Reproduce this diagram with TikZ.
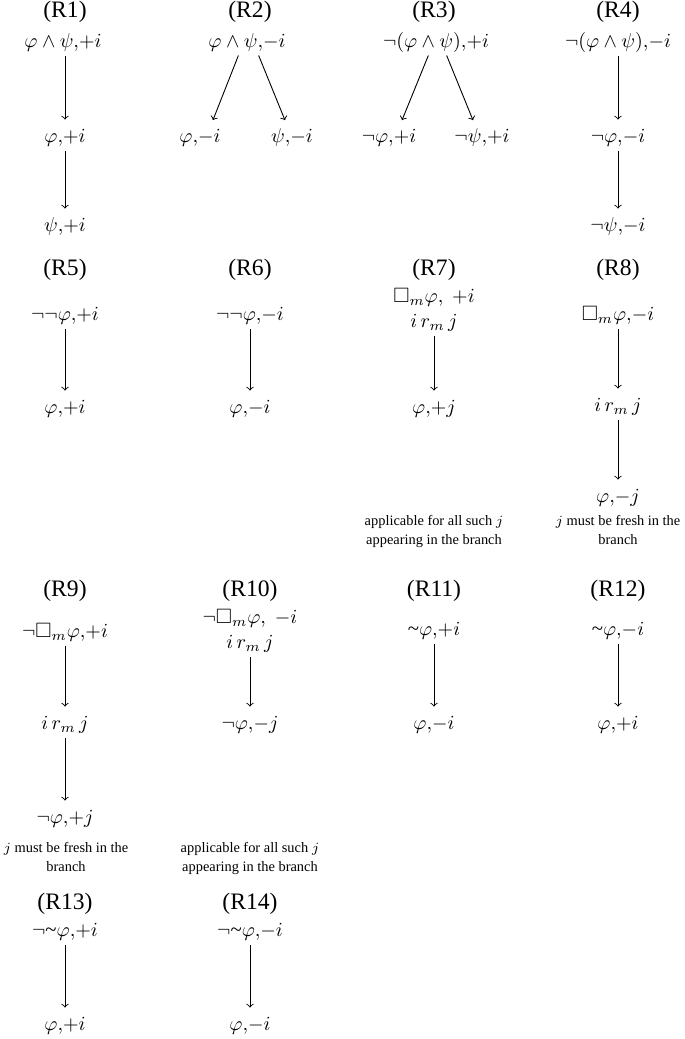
\documentclass[tikz,border=0pt]{standalone}
\usepackage{amssymb}
\usepackage{fontspec}
\setmainfont{Liberation Serif}
\newcommand{\cp}{{,}{+}}
\newcommand{\cm}{{,}{-}}
\begin{document}
\begin{tikzpicture}[x=0.5pt,y=-0.5pt,
  lab/.style={font=\fontsize{11.8}{14}\selectfont, anchor=base, inner sep=0pt},
  fm/.style={font=\fontsize{10.4}{12.5}\selectfont, anchor=base, inner sep=0pt, text height=7pt, text depth=2pt},
  note/.style={font=\fontsize{7.2}{9.5}\selectfont, anchor=base, inner sep=0pt},
  arr/.style={->, line width=0.45pt, shorten <=2.2pt, shorten >=4pt}]
\useasboundingbox (0,0) rectangle (685,1039);
% Row 1
\node[lab] (L1) at (65,17) {(R1)};
\node[lab] (L2) at (250,17) {(R2)};
\node[lab] (L3) at (434,17) {(R3)};
\node[lab] (L4) at (618,17) {(R4)};
\node[fm] (a1) at (63,47) {$\varphi\wedge\psi\cp i$};
\node[fm] (a2) at (65,142) {$\varphi\cp i$};
\node[fm] (a3) at (65,231) {$\psi\cp i$};
\draw[arr] (a2.north |- a1.south) -- (a2.north);
\draw[arr] (a2.south) -- (a3.north);
\node[fm] (b1) at (247,47) {$\varphi\wedge\psi\cm i$};
\node[fm] (b2) at (200,142) {$\varphi\cm i$};
\node[fm] (b3) at (292,142) {$\psi\cm i$};
\draw[arr] ([xshift=-3.5pt]b1.south) -- ([xshift=5pt]b2.north);
\draw[arr] ([xshift=5pt]b1.south) -- ([xshift=-2pt]b3.north);
\node[fm] (c1) at (436,47) {$\neg(\varphi\wedge\psi)\cp i$};
\node[fm] (c2) at (389,142) {$\neg\varphi\cp i$};
\node[fm] (c3) at (482,142) {$\neg\psi\cp i$};
\draw[arr] ([xshift=-3pt]c1.south) -- ([xshift=5pt]c2.north);
\draw[arr] ([xshift=4.5pt]c1.south) -- ([xshift=-3pt]c3.north);
\node[fm] (d1) at (618,47) {$\neg(\varphi\wedge\psi)\cm i$};
\node[fm] (d2) at (618,142) {$\neg\varphi\cm i$};
\node[fm] (d3) at (618,231) {$\neg\psi\cm i$};
\draw[arr] (d1.south) -- (d2.north);
\draw[arr] (d2.south) -- (d3.north);
% Row 2
\node[lab] (L5) at (65,275) {(R5)};
\node[lab] (L6) at (250,275) {(R6)};
\node[lab] (L7) at (434,275) {(R7)};
\node[lab] (L8) at (618,275) {(R8)};
\node[fm] (e1) at (65,320) {$\neg\neg\varphi\cp i$};
\node[fm] (e2) at (65,413) {$\varphi\cp i$};
\draw[arr] (e1.south) -- (e2.north);
\node[fm] (f1) at (250,320) {$\neg\neg\varphi\cm i$};
\node[fm] (f2) at (250,413) {$\varphi\cm i$};
\draw[arr] (f1.south) -- (f2.north);
\node[fm] (g1) at (434,302) {$\Box_m\varphi,\;+i$};
\node[fm] (g2) at (434,327) {$i\,r_m\,j$};
\node[fm] (g3) at (434,413) {$\varphi\cp j$};
\draw[arr] (g2.south) -- (g3.north);
\node[note] (g4) at (434,525) {applicable for all such $j$};
\node[note] (g5) at (434,544) {appearing in the branch};
\node[fm] (h1) at (618,320) {$\Box_m\varphi\cm i$};
\node[fm] (h2) at (618,411) {$i\,r_m\,j$};
\node[fm] (h3) at (618,502) {$\varphi\cm j$};
\draw[arr] (h1.south) -- (h2.north);
\draw[arr] (h2.south) -- (h3.north);
\node[note] (h4) at (618,525) {$j$ must be fresh in the};
\node[note] (h5) at (618,544) {branch};
% Row 3
\node[lab] (L9) at (65,596) {(R9)};
\node[lab] (L10) at (250,596) {(R10)};
\node[lab] (L11) at (434,596) {(R11)};
\node[lab] (L12) at (618,596) {(R12)};
\node[fm] (k1) at (65,637) {$\neg\Box_m\varphi\cp i$};
\node[fm] (k2) at (65,729) {$i\,r_m\,j$};
\node[fm] (k3) at (65,823) {$\neg\varphi\cp j$};
\draw[arr] (k1.south) -- (k2.north);
\draw[arr] (k2.south) -- (k3.north);
\node[note] (k4) at (66,852) {$j$ must be fresh in the};
\node[note] (k5) at (66,871) {branch};
\node[fm] (l1) at (250,623) {$\neg\Box_m\varphi,\;-i$};
\node[fm] (l2) at (250,648) {$i\,r_m\,j$};
\node[fm] (l3) at (250,729) {$\neg\varphi\cm j$};
\draw[arr] (l2.south) -- (l3.north);
\node[note] (l4) at (250,852) {applicable for all such $j$};
\node[note] (l5) at (250,871) {appearing in the branch};
\node[fm] (m1) at (434,635) {\textasciitilde$\varphi\cp i$};
\node[fm] (m2) at (434,729) {$\varphi\cm i$};
\draw[arr] (m1.south) -- (m2.north);
\node[fm] (n1) at (618,635) {\textasciitilde$\varphi\cm i$};
\node[fm] (n2) at (618,729) {$\varphi\cp i$};
\draw[arr] (n1.south) -- (n2.north);
% Row 4
\node[lab] (L13) at (65,909) {(R13)};
\node[lab] (L14) at (250,909) {(R14)};
\node[fm] (o1) at (65,936) {$\neg$\textasciitilde$\varphi\cp i$};
\node[fm] (o2) at (65,1030) {$\varphi\cp i$};
\draw[arr] (o1.south) -- (o2.north);
\node[fm] (p1) at (250,936) {$\neg$\textasciitilde$\varphi\cm i$};
\node[fm] (p2) at (250,1030) {$\varphi\cm i$};
\draw[arr] (p1.south) -- (p2.north);
\end{tikzpicture}
\end{document}
